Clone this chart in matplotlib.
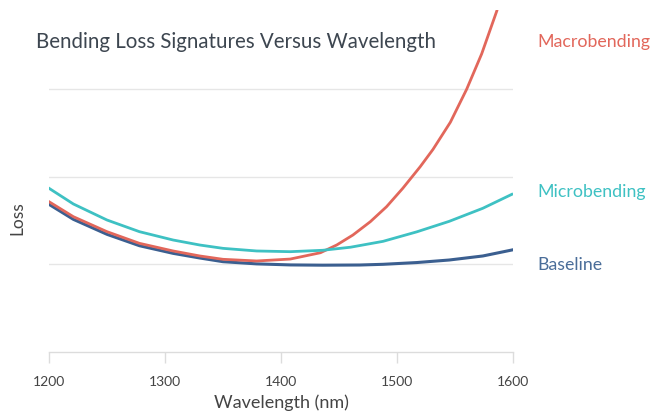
import matplotlib
matplotlib.use("Agg")
import matplotlib.pyplot as plt

plt.rcParams['font.family'] = ['Lato', 'DejaVu Sans']

# values (wavelength in nm, loss in grid units)
wl_base = [1200, 1221, 1250, 1278, 1307, 1330, 1350, 1379, 1408, 1436, 1468, 1488, 1517, 1545, 1574, 1599]
loss_base = [1.684, 1.513, 1.342, 1.212, 1.125, 1.072, 1.030, 1.005, 0.993, 0.990, 0.992, 1.000, 1.020, 1.049, 1.095, 1.163]

wl_micro = [1200, 1221, 1250, 1278, 1307, 1330, 1350, 1379, 1408, 1436, 1460, 1488, 1517, 1545, 1574, 1599]
loss_micro = [1.867, 1.688, 1.505, 1.372, 1.277, 1.220, 1.182, 1.152, 1.144, 1.160, 1.195, 1.262, 1.370, 1.490, 1.639, 1.798]

wl_macro = [1200, 1221, 1250, 1278, 1307, 1330, 1350, 1379, 1408, 1434, 1448, 1462, 1477, 1491, 1505, 1520, 1531, 1546, 1560, 1573, 1586]
loss_macro = [1.714, 1.543, 1.372, 1.239, 1.152, 1.095, 1.057, 1.038, 1.060, 1.132, 1.220, 1.334, 1.486, 1.657, 1.867, 2.113, 2.310, 2.620, 2.995, 3.400, 3.888]

xticks = [1200, 1300, 1400, 1500, 1600]
labels = ["Macrobending", "Microbending", "Baseline"]

c_macro = "#e2675b"
c_micro = "#3ec1c3"
c_base = "#3b5f90"

fig = plt.figure(figsize=(6.52, 4.19), dpi=100)
ax = fig.add_axes([49/652, 67/419, 464/652, 342/419])

ax.set_xlim(1200, 1600)
ax.set_ylim(0, 3.9)

for g in [1, 2, 3]:
    ax.axhline(g, color="#e6e6e6", lw=1, zorder=0)

ax.plot(wl_base, loss_base, color=c_base, lw=2.2, solid_joinstyle="round")
ax.plot(wl_macro, loss_macro, color=c_macro, lw=2.0, solid_joinstyle="round")
ax.plot(wl_micro, loss_micro, color=c_micro, lw=2.0, solid_joinstyle="round")

for s in ["top", "right", "left"]:
    ax.spines[s].set_visible(False)
ax.spines["bottom"].set_color("#dcdcdc")
ax.spines["bottom"].set_linewidth(1)
ax.set_yticks([])
ax.set_xticks(xticks)
ax.tick_params(axis="x", length=8, width=1, color="#dcdcdc", labelsize=10,
               labelcolor="#444444", pad=9)

ax.set_xlabel("Wavelength (nm)", fontsize=13, color="#444444", labelpad=5)
fig.text(17/652, 1 - 218/419, "Loss", rotation=90, fontsize=12.5, color="#444444",
         ha="center", va="center")

fig.text(36/652, 1 - 42/419, "Bending Loss Signatures Versus Wavelength",
         fontsize=14.8, color="#3d4650", ha="left", va="center")

fig.text(537/652, 1 - 42/419, labels[0], fontsize=12.8, color=c_macro, ha="left", va="center")
fig.text(537/652, 1 - 192/419, labels[1], fontsize=12.8, color=c_micro, ha="left", va="center")
fig.text(537/652, 1 - 265/419, labels[2], fontsize=12.8, color="#4a6d99", ha="left", va="center")

fig.savefig("out.png", dpi=100)
